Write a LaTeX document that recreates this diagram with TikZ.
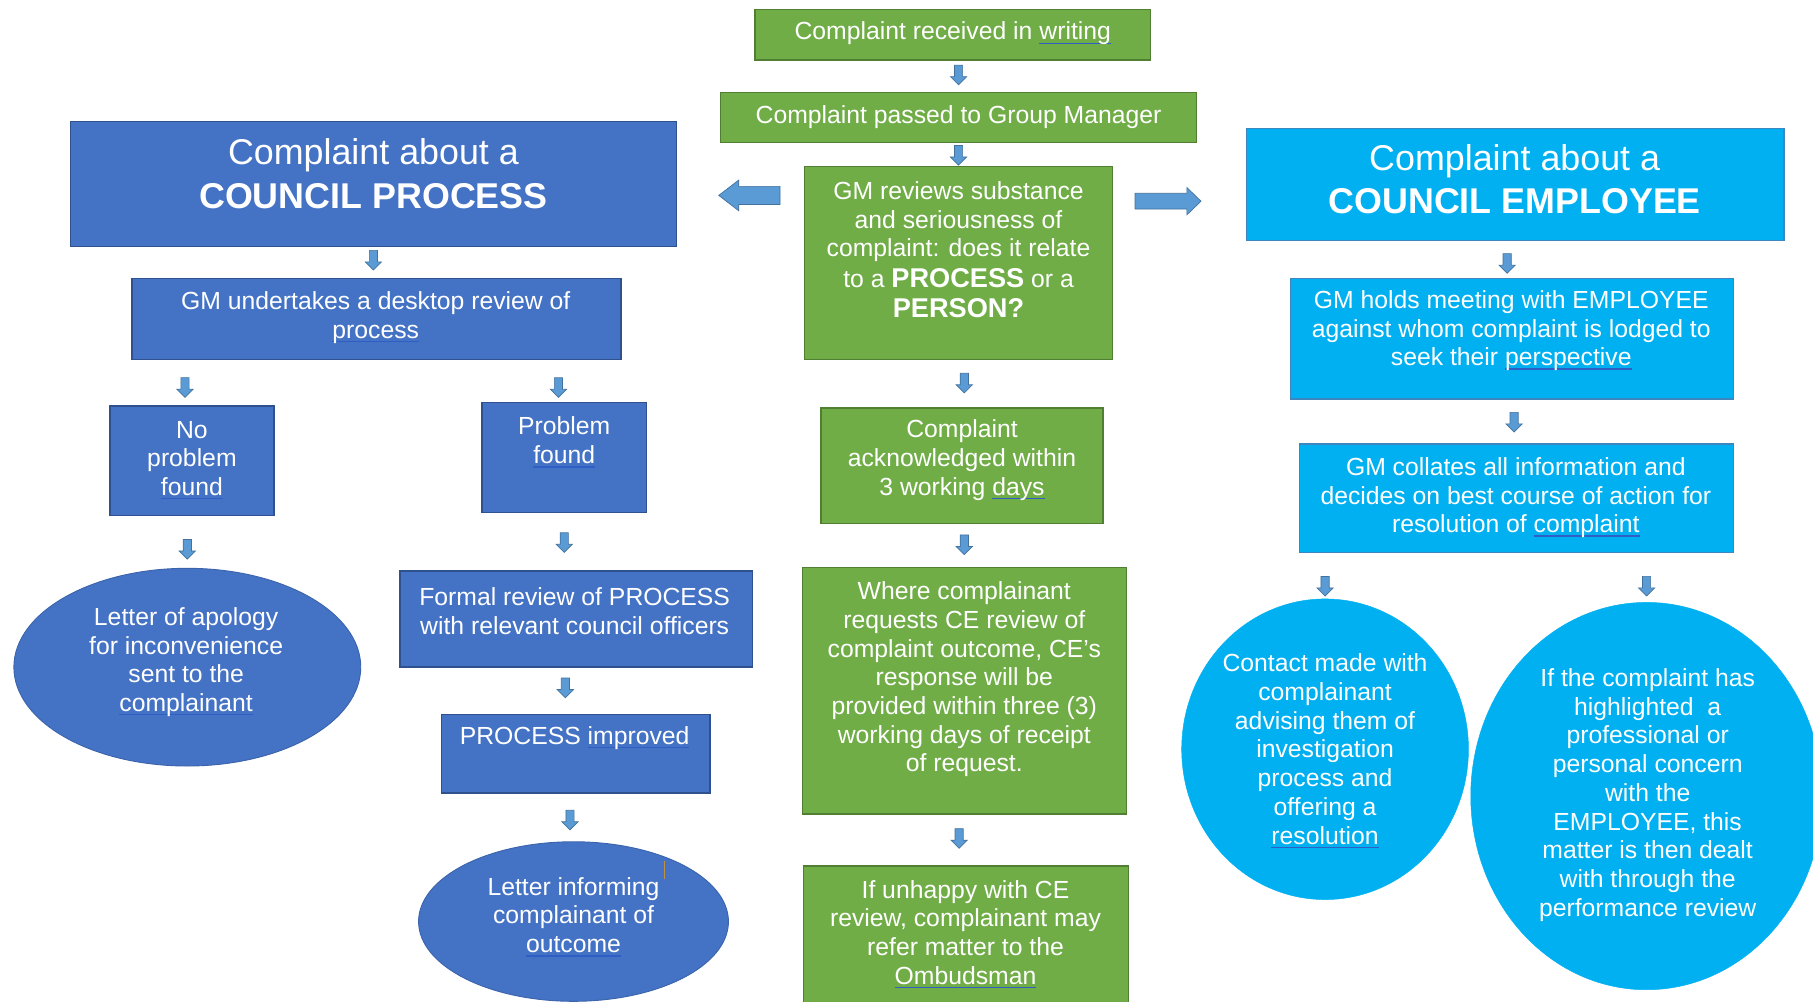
\documentclass[tikz,border=0pt]{standalone}
\usepackage{fontspec}
\setmainfont{Liberation Sans}
\usetikzlibrary{shapes.geometric,shapes.arrows}
\definecolor{grn}{HTML}{70AD47}
\definecolor{grnd}{HTML}{507E32}
\definecolor{blu}{HTML}{4472C4}
\definecolor{blud}{HTML}{2F528F}
\definecolor{lbl}{HTML}{00B0F0}
\definecolor{lbld}{HTML}{3E86C0}
\definecolor{arr}{HTML}{5B9BD5}
\definecolor{arrd}{HTML}{41719C}
\definecolor{sqc}{HTML}{2F5FC4}
\definecolor{curs}{HTML}{C09040}
\newcommand\sqig[1]{\setbox0=\hbox{#1}\rlap{\color{sqc}\rule[-3.4pt]{\wd0}{1.1pt}}\box0}
\newcommand\bigb[1]{{\fontsize{23.5}{27}\selectfont\bfseries #1}}
\begin{document}
\begin{tikzpicture}[x=1pt,y=-1pt,
 gbox/.style={rectangle, fill=grn, draw=grnd, line width=1.2pt, inner sep=0},
 bbox/.style={rectangle, fill=blu, draw=blud, line width=1.2pt, inner sep=0},
 lbox/.style={rectangle, fill=lbl, draw=lbld, line width=1.2pt, inner sep=0},
 bell/.style={ellipse, fill=blu, draw=blu!88!black, line width=0.8pt, inner sep=0},
 lell/.style={ellipse, fill=lbl, draw=lbl, inner sep=0},
 txt/.style={text=white, align=center, inner sep=0, font=\fontsize{21.4}{24.8}\selectfont},
 hdr/.style={text=white, align=center, inner sep=0, font=\fontsize{31}{38}\selectfont},
 dn/.style={single arrow, shape border rotate=270, fill=arr, draw=arrd, line width=0.6pt,
   minimum height=17pt, inner sep=3.25pt, single arrow head extend=3.5pt,
   single arrow tip angle=90},
 sideL/.style={single arrow, shape border rotate=180, fill=arr, draw=arrd, line width=0.6pt,
   minimum height=53pt, inner sep=7.5pt, single arrow head extend=5.5pt,
   single arrow tip angle=75},
 sideR/.style={single arrow, fill=arr, draw=arrd, line width=0.6pt,
   minimum height=57pt, inner sep=6.5pt, single arrow head extend=5pt,
   single arrow tip angle=88}
]
\useasboundingbox (0,0) rectangle (1568,866);
\clip (0,0) rectangle (1568,866);

% ---- shapes ----
\node[gbox, minimum width=342pt, minimum height=44pt] (G1) at (824,30) {};
\node[gbox, minimum width=412pt, minimum height=43pt] (G2) at (829,101.5) {};
\node[gbox, minimum width=266pt, minimum height=167pt] (G3) at (829,227.5) {};
\node[bbox, minimum width=524pt, minimum height=108pt] (B1) at (323,159) {};
\node[lbox, minimum width=465pt, minimum height=97pt] (C1) at (1310.5,159.5) {};
\node[bbox, minimum width=423pt, minimum height=70pt] (B2) at (325.5,276) {};
\node[lbox, minimum width=383pt, minimum height=104pt] (C2) at (1307.5,293) {};
\node[bbox, minimum width=142pt, minimum height=95pt] (B3) at (166,398.5) {};
\node[bbox, minimum width=142pt, minimum height=95pt] (B4) at (488,395.5) {};
\node[gbox, minimum width=244pt, minimum height=100pt] (G4) at (832,403) {};
\node[lbox, minimum width=375pt, minimum height=94pt] (C3) at (1311.5,431) {};
\node[bell, minimum width=300pt, minimum height=171pt] (E1) at (162,577) {};
\node[bbox, minimum width=305pt, minimum height=83pt] (B5) at (498.5,535.5) {};
\node[gbox, minimum width=280pt, minimum height=213pt] (G5) at (834,597.5) {};
\node[bbox, minimum width=232pt, minimum height=68pt] (B6) at (498,652) {};
\node[bell, minimum width=268pt, minimum height=138pt] (E2) at (496,797) {};
\node[gbox, minimum width=281pt, minimum height=142pt] (G6) at (835.5,820) {};
\node[lell, minimum width=248pt, minimum height=260pt] (E3) at (1146,648) {};
\node[lell, minimum width=304pt, minimum height=335pt] (E4) at (1424,688.5) {};

% ---- texts ----
\node[txt] (G1t) at (824,29) {Complaint received in \sqig{writing}};
\node[txt] (G2t) at (829,101) {Complaint passed to Group Manager};
\node[txt] (G3t) at (829,216) {GM reviews substance\\and seriousness of\\complaint: does it relate\\[2pt]to a \bigb{PROCESS} or a\\[1pt]\bigb{PERSON?}};
\node[hdr] (B1t) at (323,150) {Complaint about a\\\textbf{COUNCIL PROCESS}};
\node[hdr] (C1t) at (1310,155) {Complaint about a\\\textbf{COUNCIL EMPLOYEE}};
\node[txt] (B2t) at (325,274.5) {GM undertakes a desktop review of\\\sqig{process}};
\node[txt] (C2t) at (1307,286) {GM holds meeting with EMPLOYEE\\against whom complaint is lodged to\\seek their \sqig{perspective}};
\node[txt] (B3t) at (166,398) {No\\problem\\\sqig{found}};
\node[txt] (B4t) at (488,382.5) {Problem\\\sqig{found}};
\node[txt] (G4t) at (832,398) {Complaint\\acknowledged within\\3 working \sqig{days}};
\node[txt] (C3t) at (1311,430.5) {GM collates all information and\\decides on best course of action for\\resolution of \sqig{complaint}};
\node[txt] (E1t) at (161,572.5) {Letter of apology\\for inconvenience\\sent to the\\\sqig{complainant}};
\node[txt] (B5t) at (497,528.5) {Formal review of PROCESS\\with relevant council officers};
\node[txt] (G5t) at (834,587.5) {Where complainant\\requests CE review of\\complaint outcome, CE’s\\response will be\\provided within three (3)\\working days of receipt\\of request.};
\node[txt] (B6t) at (497,638) {PROCESS \sqig{improved}};
\node[txt] (E2t) at (496,793) {Letter informing\\complainant of\\\sqig{outcome}};
\node[txt] (G6t) at (835,808) {If unhappy with CE\\review, complainant may\\refer matter to the\\\sqig{Ombudsman}};
\node[txt] (E3t) at (1146,649.5) {Contact made with\\complainant\\advising them of\\investigation\\process and\\offering a\\\sqig{resolution}};
\node[txt] (E4t) at (1425,687.5) {If the complaint has\\highlighted\ \ a\\professional or\\personal concern\\with the\\EMPLOYEE, this\\matter is then dealt\\with through the\\performance review};

% text cursor mark
\draw[curs, line width=0.9pt] (575,745) -- (575,760);

% ---- connectors ----
\path (G1.south -| G2.north) -- (G2.north) node[dn, pos=0.39] (a1) {};
\path (G2.south -| G3.north) -- (G3.north) node[dn, pos=0.45] (a2) {};
\path (B1.south) -- (B1.south |- B2.north) node[dn, pos=0.36] (a3) {};
\path (C1.south -| C2.north) -- (C2.north) node[dn, pos=0.55, xshift=-4pt] (a4) {};
\path (B2.south -| B3.north) -- (B3.north) node[dn, pos=0.56, xshift=-6pt] (a5) {};
\path (B2.south -| B4.north) -- (B4.north) node[dn, pos=0.61, xshift=-5pt] (a6) {};
\path (G3.south -| G4.north) -- (G4.north) node[dn, pos=0.44, xshift=2pt] (a7) {};
\path (C2.south -| C3.north) -- (C3.north) node[dn, pos=0.47, xshift=-2pt] (a8) {};
\path (B3.south -| E1.north) -- (E1.north) node[dn, pos=0.6] (a9) {};
\path (B4.south) -- (B4.south |- B5.north) node[dn, pos=0.48] (a10) {};
\path (G4.south -| G5.north) -- (G5.north) node[dn, pos=0.43] (a11) {};
\path (C3.south -| E3.north) -- (E3.north) node[dn, pos=0.68] (a12) {};
\path (C3.south -| E4.north) -- (E4.north) node[dn, pos=0.63] (a13) {};
\path (B5.south -| B6.north) -- (B6.north) node[dn, pos=0.39, xshift=-9pt] (a14) {};
\path (B6.south -| E2.north) -- (E2.north) node[dn, pos=0.51, xshift=-3pt] (a15) {};
\path (G5.south -| G6.north) -- (G6.north) node[dn, pos=0.43, xshift=-6pt] (a16) {};
\path (G3.west |- B1.east) -- (B1.east) node[sideL, pos=0.43, xshift=5pt, yshift=-10pt] (aL) {};
\path (G3.east |- C1.west) -- (C1.west) node[sideR, pos=0.41, xshift=-3pt, yshift=-14.5pt] (aR) {};
\end{tikzpicture}
\end{document}
